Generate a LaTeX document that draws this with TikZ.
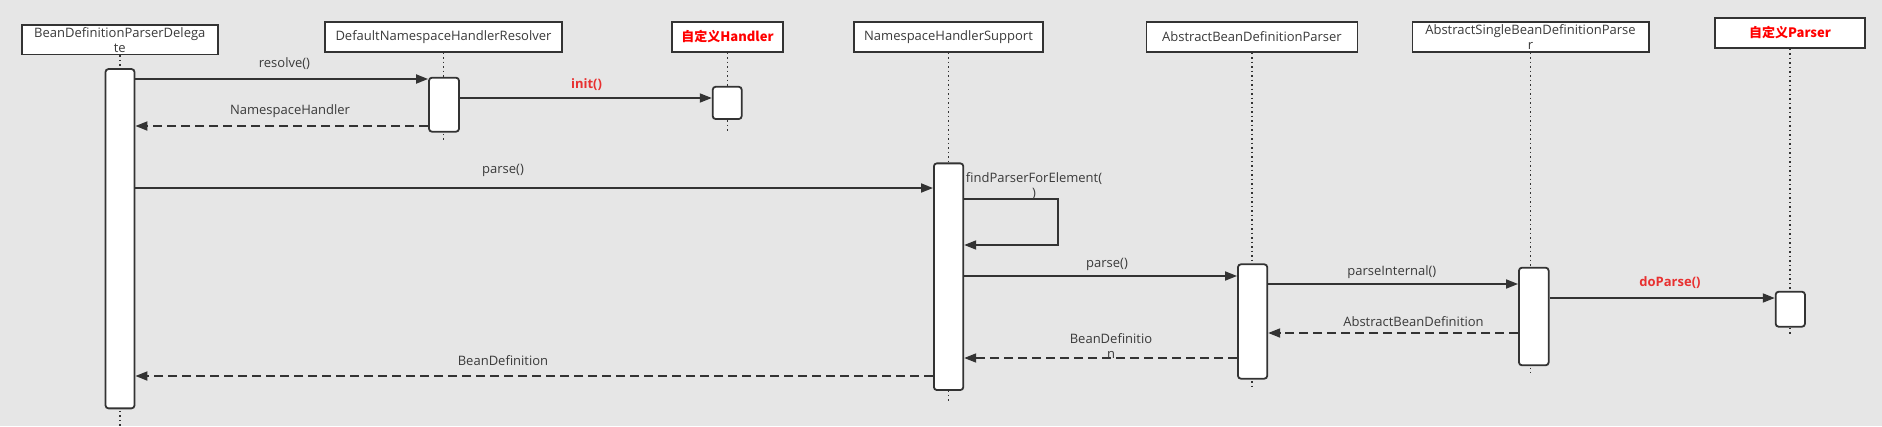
\documentclass[tikz,border=0pt]{standalone}
\usepackage{fontspec}
\setmainfont{Open Sans}
\newfontfamily\cjk{Noto Sans CJK SC}
\usetikzlibrary{arrows.meta}
\definecolor{bg}{HTML}{E6E6E6}
\definecolor{ln}{HTML}{333333}
\definecolor{tx}{HTML}{3A3A3A}
\definecolor{hred}{HTML}{FF0000}
\definecolor{lred}{HTML}{E83030}
\tikzset{
  head/.style={draw=ln, line width=1.8pt, fill=white, minimum height=29.4pt, inner sep=0pt, text=tx, align=center, font=\fontsize{13}{15}\selectfont},
  act/.style={draw=ln, line width=1.8pt, fill=white, rounded corners=3pt, inner sep=0pt},
  life/.style={draw=ln, line width=1.4pt, dash pattern=on 1.5pt off 3pt},
  msg/.style={draw=ln, line width=1.8pt, -{Triangle[length=12pt,width=9pt]}},
  ret/.style={msg, dash pattern=on 9pt off 5pt},
  lbl/.style={text=tx, inner sep=0pt, align=center, font=\fontsize{13}{15}\selectfont},
  rlbl/.style={text=lred, inner sep=0pt, font=\fontsize{13}{15}\selectfont\bfseries},
  chead/.style={head, text=hred, font=\cjk\bfseries\fontsize{13}{15}\selectfont}
}
\begin{document}
\begin{tikzpicture}[x=1pt,y=-1pt, font=\fontsize{13}{15}\selectfont]
\fill[bg] (0,0) rectangle (1882,426);
\useasboundingbox (0,0) rectangle (1882,426);

% headers
\node[head, minimum width=195.6pt] (h1) at (119.8,39.7) {BeanDefinitionParserDelega\\te};
\node[head, minimum width=237pt] (h2) at (443.5,37) {DefaultNamespaceHandlerResolver};
\node[chead, minimum width=111pt] (h3) at (727.5,37) {自定义Handler};
\node[head, minimum width=189pt] (h4) at (948.5,37) {NamespaceHandlerSupport};
\node[head, minimum width=211pt] (h5) at (1252,37) {AbstractBeanDefinitionParser};
\node[head, minimum width=236.2pt] (h6) at (1530.5,37) {AbstractSingleBeanDefinitionParse\\r};
\node[chead, minimum width=150pt] (h7) at (1790,33) {自定义Parser};

% lifeline ends
\coordinate (e1) at (119.8,426);
\coordinate (e2) at (443.5,140);
\coordinate (e3) at (727.5,131);
\coordinate (e4) at (948.5,402);
\coordinate (e5) at (1252,387);
\coordinate (e6) at (1530.5,373);
\coordinate (e7) at (1790,336);
\draw[life] (h1.south) -- (e1);
\draw[life] (h2.south) -- (e2);
\draw[life] (h3.south) -- (e3);
\draw[life] (h4.south) -- (e4);
\draw[life] (h5.south) -- (e5);
\draw[life] (h6.south) -- (e6);
\draw[life] (h7.south) -- (e7);

% activations
\node[act, minimum width=29pt, minimum height=339.3pt] (a1) at (120,238.7) {};
\node[act, minimum width=30pt, minimum height=54pt] (a2) at (444,104.7) {};
\node[act, minimum width=29pt, minimum height=32.3pt] (a3) at (727.2,102.9) {};
\node[act, minimum width=29.4pt, minimum height=226.7pt] (a4) at (948.6,276.7) {};
\node[act, minimum width=29.3pt, minimum height=114.4pt] (a5) at (1252.6,321.5) {};
\node[act, minimum width=29.7pt, minimum height=97.6pt] (a6) at (1533.8,316.5) {};
\node[act, minimum width=29.3pt, minimum height=35pt] (a7) at (1790.3,309.2) {};

% messages
\draw[msg] (a1.east |- 0,79) -- (a2.west |- 0,79);
\node[lbl] (l1) at (284.5,64) {resolve()};
\draw[ret] (a2.west |- 0,126) -- (a1.east |- 0,126);
\node[lbl] (l2) at (290,111) {NamespaceHandler};
\draw[msg] (a2.east |- 0,98) -- (a3.west |- 0,98);
\node[rlbl] (l3) at (586.5,85) {init()};
\draw[msg] (a1.east |- 0,188) -- (a4.west |- 0,188);
\node[lbl] (l4) at (503,170.7) {parse()};
\draw[msg] (a4.east |- 0,199) -- (1057.6,199) -- (1057.6,245) -- (a4.east |- 0,245);
\node[lbl] (l5) at (1034,185.8) {findParserForElement(\\)};
\draw[msg] (a4.east |- 0,276) -- (a5.west |- 0,276);
\node[lbl] (l6) at (1107,264) {parse()};
\draw[msg] (a5.east |- 0,284) -- (a6.west |- 0,284);
\node[lbl] (l7) at (1391.8,271.7) {parseInternal()};
\draw[msg] (a6.east |- 0,298) -- (a7.west |- 0,298);
\node[rlbl] (l8) at (1670,282.7) {doParse()};
\draw[ret] (a6.west |- 0,333) -- (a5.east |- 0,333);
\node[lbl] (l9) at (1413.5,321.7) {AbstractBeanDefinition};
\draw[ret] (a5.west |- 0,358) -- (a4.east |- 0,358);
\node[lbl] (l10) at (1111,346.2) {BeanDefinitio\\n};
\draw[ret] (a4.west |- 0,376) -- (a1.east |- 0,376);
\node[lbl] (l11) at (503,360.7) {BeanDefinition};
\end{tikzpicture}
\end{document}
